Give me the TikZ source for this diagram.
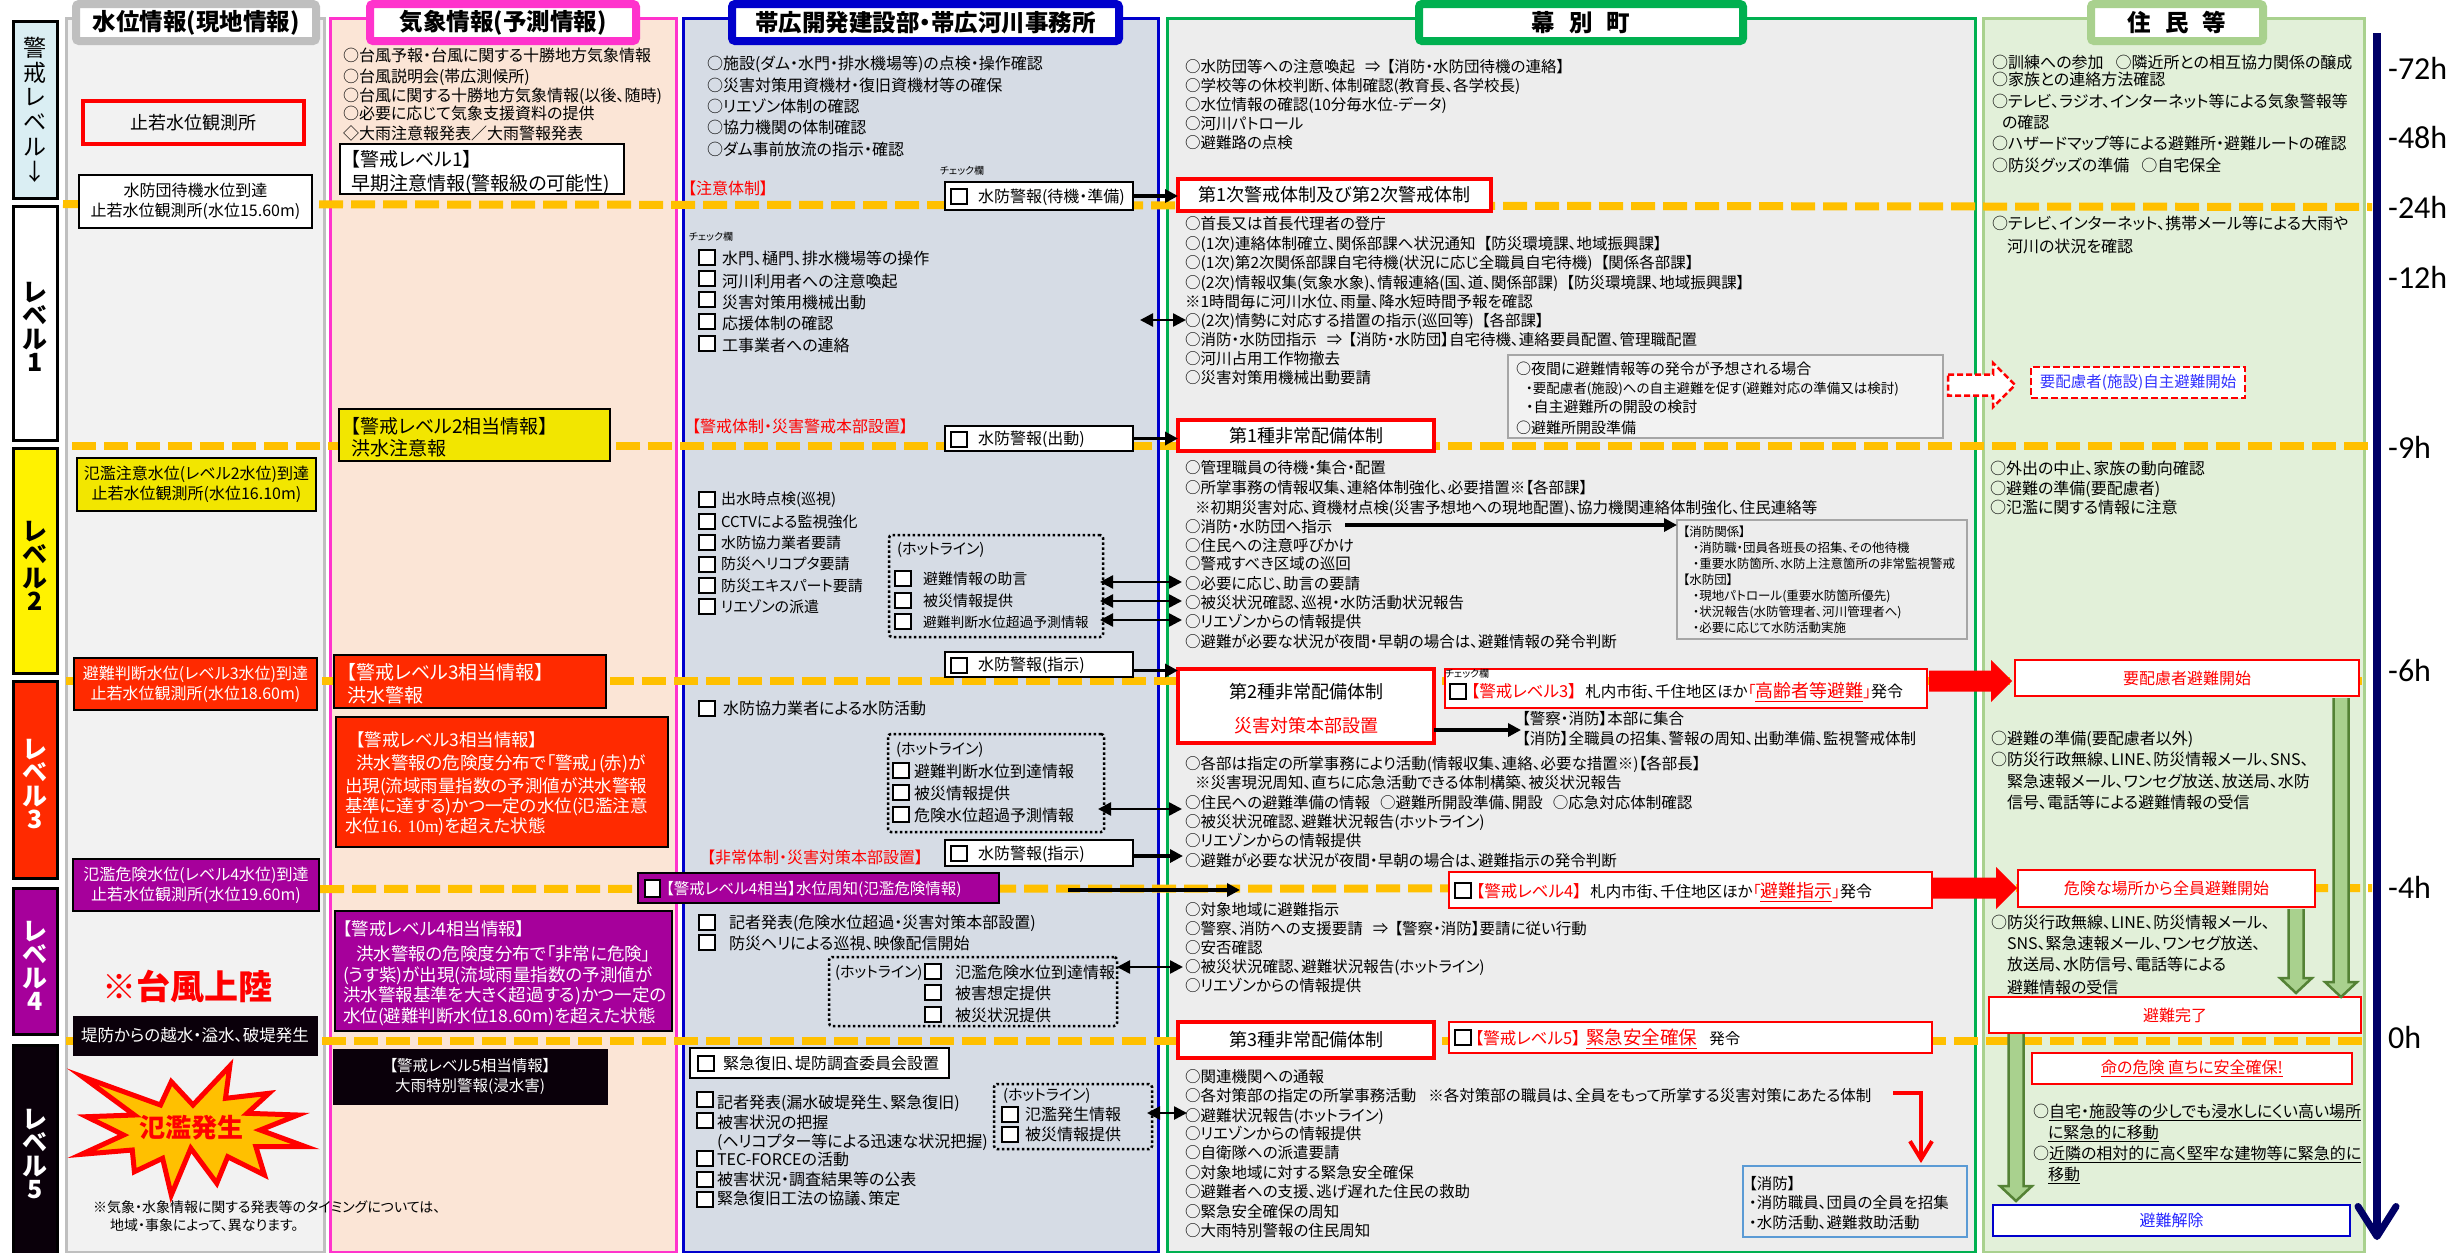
\documentclass[tikz,border=0pt]{standalone}
\usepackage{fontspec}
\setmainfont[RawFeature={+palt}]{Noto Sans CJK JP}
\newfontfamily\carl{Carlito}
\newfontfamily\sernum{Liberation Serif}
\usetikzlibrary{arrows.meta,calc}
\definecolor{cOr}{HTML}{FFC000}
\definecolor{cPk}{HTML}{FF33CC}
\definecolor{cBl}{HTML}{0000CC}
\definecolor{cGn}{HTML}{00B050}
\definecolor{cLg}{HTML}{A9D18E}
\definecolor{cDg}{HTML}{548235}
\definecolor{cGy}{HTML}{BFBFBF}
\definecolor{cRd}{HTML}{FF2A00}
\definecolor{cPu}{HTML}{A6009B}
\definecolor{cYe}{HTML}{F2E600}
\definecolor{cBk}{HTML}{0A000A}
\definecolor{cNv}{HTML}{000066}
\definecolor{cSt}{HTML}{FFC000}
\tikzset{
 fs/.style={font=\fontsize{#1}{#1}\selectfont},
 txt/.style={fs=#1,inner sep=0pt,outer sep=0pt,anchor=west,text height={0.88*#1*1pt},text depth={0.12*#1*1pt}},
 box/.style={draw,inner sep=0pt,outer sep=0pt,align=center,line width=2pt},
 panel/.style={draw,inner sep=0pt,line width=3pt},
 head/.style={draw,fill=white,inner sep=0pt,line width=8pt,rounded corners=3pt,font=\fontsize{23.5}{23.5}\selectfont\bfseries},
 lvl/.style={draw=black,inner sep=0pt,line width=3pt},
 lvltxt/.style={inner sep=0pt,align=center,font=\fontsize{25}{23.5}\selectfont\bfseries},
 redbox/.style={box,draw=red,fill=white,line width=4pt},
 thinred/.style={box,draw=red,fill=white,line width=2pt},
 dline/.style={draw=cOr,line width=8pt,dash pattern=on 24pt off 8pt},
 hot/.style={draw,inner sep=0pt,line width=2.5pt,dash pattern=on 2.5pt off 2.5pt,rounded corners=3pt},
 chkst/.style={draw=black,fill=white,line width=2pt},
 arr/.style={draw=black,line width=3.5pt,-{Triangle[length=13pt,width=13pt]}},
 dbl/.style={draw=black,line width=2.5pt,{Triangle[length=13pt,width=13pt]}-{Triangle[length=13pt,width=13pt]}},
 garrow/.style={draw=cDg,fill=cLg,line width=2.5pt},
}
\newcommand\Bx[7]{\node[#6,minimum width={(#4-#2)*1pt},minimum height={(#5-#3)*1pt}] (#1) at ({(#2+#4)/2},{(#3+#5)/2}) {#7};}
\newcommand\Ls[4]{\foreach \lnY/\lnT [count=\lnI] in {#4} {\node[txt=#2] (#1\lnI) at (#3,\lnY) {\lnT};}}
\newcommand\Chk[2]{\draw[chkst] ({#1},{#2-7.5}) rectangle ({#1+16},{#2+7.5});}
\newcommand\GA[2]{\draw[garrow] let \p1=(#1),\p2=(#2) in (\x1-7.5pt,\y1) -- (\x1-7.5pt,\y2+15pt) -- (\x1-16pt,\y2+15pt) -- (\x1,\y2) -- (\x1+16pt,\y2+15pt) -- (\x1+7.5pt,\y2+15pt) -- (\x1+7.5pt,\y1);}
\newcommand\RA[2]{\fill[red] let \p1=(#1),\p2=(#2) in (\x1,\y1+10.5pt) -- (\x2-21pt,\y1+10.5pt) -- (\x2-21pt,\y1+21pt) -- (\x2,\y1) -- (\x2-21pt,\y1-21pt) -- (\x2-21pt,\y1-10.5pt) -- (\x1,\y1-10.5pt) -- cycle;}
\newcommand\Rd[1]{{\color{red}\fontsize{16.5}{16.5}\selectfont #1}}
\begin{document}
\begin{tikzpicture}[x=1pt,y=-1pt]
\useasboundingbox (0,0) rectangle (2458,1253);
% panels
\Bx{pWater}{66}{18}{324}{1252}{panel,draw=cGy,fill=black!5}{}
\Bx{pWeather}{330}{18}{676}{1252}{panel,draw=cPk,fill={rgb,255:red,251;green,229;blue,214}}{}
\Bx{pDev}{683}{18}{1158}{1252}{panel,draw=cBl,fill={rgb,255:red,214;green,220;blue,229}}{}
\Bx{pTown}{1167}{18}{1975}{1252}{panel,draw=cGn,fill={rgb,255:red,237;green,237;blue,237}}{}
\Bx{pRes}{1983}{18}{2364}{1252}{panel,draw=cLg,fill={rgb,255:red,226;green,240;blue,217}}{}
% level boxes
\Bx{lv0}{13.5}{21.5}{57.5}{198}{lvl,fill={rgb,255:red,218;green,238;blue,243}}{}
\Bx{lv1}{13.5}{206.5}{57.5}{440}{lvl,fill=white}{}
\Bx{lv2}{13.5}{448.5}{57.5}{673}{lvl,fill=yellow}{}
\Bx{lv3}{13.5}{681.5}{57.5}{878}{lvl,fill=cRd}{}
\Bx{lv4}{13.5}{888.5}{57.5}{1034}{lvl,fill=cPu}{}
\Bx{lv5}{13.5}{1045.5}{57.5}{1256}{lvl,fill=cBk}{}
\node[inner sep=0pt,align=center,font=\fontsize{23}{24.8}\selectfont] (lt0) at (35,109.5) {警\\戒\\レ\\ベ\\ル\\↓};
\node[lvltxt] (lt1) at (35,327) {レ\\ベ\\ル\\1};
\node[lvltxt] (lt2) at (35,566) {レ\\ベ\\ル\\2};
\node[lvltxt,text=white] (lt3) at (35,784) {レ\\ベ\\ル\\3};
\node[lvltxt,text=white] (lt4) at (35,966) {レ\\ベ\\ル\\4};
\node[lvltxt,text=white] (lt5) at (35,1154) {レ\\ベ\\ル\\5};
% dashed level lines
\coordinate (d1a) at (63,204); \coordinate (d1b) at (2372,207);
\coordinate (d2a) at (72,446); \coordinate (d2b) at (2368,446);
\coordinate (d3a) at (66,681); \coordinate (d3b) at (2363,681);
\coordinate (d4a) at (320,889); \coordinate (d4b) at (2372,888);
\coordinate (d5a) at (66,1041); \coordinate (d5b) at (2363,1041);
\draw[dline] (d1a) -- (d1b);
\draw[dline] (d2a) -- (d2b);
\draw[dline] (d3a) -- (d3b);
\draw[dline] (d4a) -- (d4b);
\draw[dline] (d5a) -- (d5b);
% headers
\Bx{hWater}{76}{4}{316}{41}{head,draw=cGy}{水位情報(現地情報)}
\Bx{hWeather}{370}{4}{636}{41}{head,draw=cPk}{気象情報(予測情報)}
\Bx{hDev}{732}{4}{1119}{41}{head,draw=cBl}{帯広開発建設部・帯広河川事務所}
\Bx{hTown}{1419}{4}{1743}{41}{head,draw=cGn}{幕\hspace{14pt}別\hspace{14pt}町}
\Bx{hRes}{2091}{4}{2263}{41}{head,draw=cLg}{住\hspace{14pt}民\hspace{14pt}等}
% time axis
\coordinate (tTop) at (2377,33); \coordinate (tEnd) at (2377,1240);
\draw[cNv,line width=8pt,-{Straight Barb[round,length=30pt,width=38pt,line width=7pt]}] (tTop) -- (tEnd);
\foreach \tY/\tL [count=\tI] in {68/-72h,138/-48h,207/-24h,277/-12h,447/-9h,670/-6h,887/-4h,1037/0h}
 {\node[inner sep=0pt,anchor=west,font=\carl\fontsize{32}{32}\selectfont] (time\tI) at (2388,\tY) {\tL};}
% water column
\Bx{w0}{83}{101}{304}{144}{box,draw=red,line width=3.5pt,fill=black!5,fs=18}{止若水位観測所}
\Bx{w1}{79}{175}{312}{228}{box,fill=white,font=\fontsize{16}{20}\selectfont}{水防団待機水位到達\\止若水位観測所(水位15.60m)}
\Bx{w2}{77}{458}{316}{511}{box,fill=cYe,font=\fontsize{16}{20}\selectfont}{氾濫注意水位(レベル2水位)到達\\止若水位観測所(水位16.10m)}
\Bx{w3}{74}{658}{317}{710}{box,fill=cRd,text=white,font=\fontsize{16}{20}\selectfont}{避難判断水位(レベル3水位)到達\\止若水位観測所(水位18.60m)}
\Bx{w4}{73}{859}{319}{911}{box,fill=cPu,text=white,font=\fontsize{16}{20}\selectfont}{氾濫危険水位(レベル4水位)到達\\止若水位観測所(水位19.60m)}
\Bx{w5}{73}{1016}{317}{1055}{draw=cBk,fill=cBk,text=white,inner sep=0pt,fs=16.5}{堤防からの越水・溢水、破堤発生}
\node[inner sep=0pt,anchor=west,text=red,font=\fontsize{34}{34}\selectfont\bfseries] (typh) at (102,986) {※台風上陸};
\draw[draw=red,fill=cSt,line width=5pt,miter limit=20] (82.4,1076.7) -- (160.5,1105) -- (171.3,1081.7) -- (193,1105) -- (229.8,1066) -- (225.5,1098.3) -- (268.9,1093.3) -- (247.2,1113.3) -- (297.9,1115) -- (260.2,1130) -- (305.7,1146.7) -- (255.9,1146.7) -- (264.5,1175) -- (227.7,1156.7) -- (216.8,1183.3) -- (190.8,1148.3) -- (171.3,1195) -- (162.6,1158.3) -- (134.4,1171.7) -- (132.3,1150) -- (81.5,1154.3) -- (123.6,1135) -- (86.7,1116.7) -- (134.4,1115) -- cycle;
\node[inner sep=0pt,text=red,font=\fontsize{26}{26}\selectfont\bfseries] (star) at (191,1128) {氾濫発生};
\Ls{note}{14}{93}{1207/※気象・水象情報に関する発表等のタイミングについては、,1225/\hspace*{17pt}地域・事象によって、異なります。}
% weather column
\Ls{we}{16}{343}{55/○台風予報・台風に関する十勝地方気象情報,76/○台風説明会(帯広測候所),95/○台風に関する十勝地方気象情報(以後、随時),113/○必要に応じて気象支援資料の提供,133/◇大雨注意報発表\symbol{"FF0F}大雨警報発表}
\Bx{wb1}{340}{144}{624}{194}{box,fill=white}{}
\Ls{wb1t}{19}{351}{159/【警戒レベル1】,183/早期注意情報(警報級の可能性)}
\Bx{wb2}{339}{409}{610}{461}{box,fill=cYe}{}
\Ls{wb2t}{19}{351}{426/【警戒レベル2相当情報】,448/洪水注意報}
\Bx{wb3}{334}{655}{606}{708}{box,fill=cRd}{}
\foreach \yy/\ss [count=\i] in {672/【警戒レベル3相当情報】,695/洪水警報}{\node[txt=19,text=white] (wb3t\i) at (347,\yy) {\ss};}
\Bx{wb4}{336}{717}{668}{847}{box,fill=cRd}{}
\foreach \yy/\ss [count=\i] in {740/\hspace*{11pt}【警戒レベル3相当情報】,763/\hspace*{11pt}洪水警報の危険度分布で「警戒」(赤)が,786/出現(流域雨量指数の予測値が洪水警報,806/基準に達する)かつ一定の水位(氾濫注意,826/水位{\sernum 16. 10m})を超えた状態}{\node[txt=17.5,text=white] (wb4t\i) at (345,\yy) {\ss};}
\Bx{wb5}{335}{911}{672}{1031}{box,fill=cPu}{}
\foreach \yy/\ss [count=\i] in {929/【警戒レベル4相当情報】,954/\hspace*{13pt}洪水警報の危険度分布で「非常に危険」,975/(うす紫)が出現(流域雨量指数の予測値が,995/洪水警報基準を大きく超過する)かつ一定の,1016/水位(避難判断水位18.60m)を超えた状態}{\node[txt=17.5,text=white] (wb5t\i) at (343,\yy) {\ss};}
\Bx{wb6}{333}{1049}{607}{1104}{draw=cBk,fill=cBk,text=white,inner sep=0pt,align=center,font=\fontsize{15.5}{20}\selectfont}{【警戒レベル5相当情報】\\大雨特別警報(浸水害)}
% development bureau column
\Ls{de}{16}{707}{63/○施設(ダム・水門・排水機場等)の点検・操作確認,85/○災害対策用資機材・復旧資機材等の確保,106/○リエゾン体制の確認,127/○協力機関の体制確認,149/○ダム事前放流の指示・確認}
\node[txt=16,text=red] (dRed1) at (688,188) {【注意体制】};
\node[txt=10] (dChk1) at (940,171) {チェック欄};
\Bx{n1}{945}{182}{1133}{210}{box,fill=white}{}
\Chk{951}{196}
\node[txt=16] (n1t) at (978,196) {水防警報(待機・準備)};
\node[txt=10] (dChk2) at (689,237) {チェック欄};
\Chk{699}{257} \Chk{699}{278} \Chk{699}{299} \Chk{699}{321} \Chk{699}{343}
\Ls{dl}{16}{722}{258/水門、樋門、排水機場等の操作,281/河川利用者への注意喚起,302/災害対策用機械出動,323/応援体制の確認,345/工事業者への連絡}
\node[txt=16,text=red] (dRed2) at (692,426) {【警戒体制・災害警戒本部設置】};
\Bx{n2}{945}{426}{1133}{451}{box,fill=white}{}
\Chk{951}{439}
\node[txt=16] (n2t) at (978,438) {水防警報(出動)};
\Chk{699}{499} \Chk{699}{521} \Chk{699}{542} \Chk{699}{564} \Chk{699}{585} \Chk{699}{606}
\Ls{dm}{15}{721}{499/出水時点検(巡視),522/CCTVによる監視強化,543/水防協力業者要請,564/防災ヘリコプタ要請,586/防災エキスパート要請,607/リエゾンの派遣}
\Bx{hot1}{889}{535}{1103}{637}{hot}{}
\node[txt=15] (hot1t) at (897,549) {(ホットライン)};
\Chk{895}{578} \Chk{895}{600} \Chk{895}{621}
\Ls{hot1l}{15}{923}{579/避難情報の助言,601/被災情報提供,622/{\fontsize{13.8}{13.8}\selectfont 避難判断水位超過予測情報}}
\Bx{n3}{945}{652}{1133}{677}{box,fill=white}{}
\Chk{951}{665}
\node[txt=16] (n3t) at (978,664) {水防警報(指示)};
\Chk{699}{708}
\node[txt=16] (dAct) at (723,708) {水防協力業者による水防活動};
\Bx{hot2}{888}{734}{1104}{832}{hot}{}
\node[txt=15] (hot2t) at (896,749) {(ホットライン)};
\Chk{893}{770} \Chk{893}{792} \Chk{893}{814}
\Ls{hot2l}{16}{914}{771/避難判断水位到達情報,793/被災情報提供,815/危険水位超過予測情報}
\node[txt=16,text=red] (dRed3) at (707,857) {【非常体制・災害対策本部設置】};
\Bx{n4}{945}{840}{1133}{866}{box,fill=white}{}
\Chk{951}{853.5}
\node[txt=16] (n4t) at (978,853) {水防警報(指示)};
\Bx{nPur}{638}{873}{999}{903}{box,fill=cPu,line width=2.5pt}{}
\draw[chkst,draw=black] (644.5,880) rectangle (660,896.5);
\node[txt=15.5,text=white] (nPurT) at (666,889) {【警戒レベル4相当】水位周知(氾濫危険情報)};
\Chk{699}{922} \Chk{699}{942}
\Ls{dn}{16}{729}{922/記者発表(危険水位超過・災害対策本部設置),943/防災ヘリによる巡視、映像配信開始}
\Bx{hot3}{829}{957}{1117}{1026}{hot}{}
\node[txt=15] (hot3t) at (835,972) {(ホットライン)};
\Chk{925}{971} \Chk{925}{992} \Chk{925}{1014}
\Ls{hot3l}{16}{955}{972/氾濫危険水位到達情報,993/被害想定提供,1015/被災状況提供}
\Bx{n5}{690}{1048}{949}{1078}{box,fill=white}{}
\Chk{698}{1063}
\node[txt=16] (n5t) at (723,1063) {緊急復旧、堤防調査委員会設置};
\Chk{697}{1099} \Chk{697}{1120} \Chk{697}{1158} \Chk{697}{1179} \Chk{697}{1199}
\Ls{dq}{16}{717}{1102/記者発表(漏水破堤発生、緊急復旧),1122/被害状況の把握,1141/(ヘリコプター等による迅速な状況把握),1159/TEC-FORCEの活動,1179/被害状況・調査結果等の公表,1198/緊急復旧工法の協議、策定}
\Bx{hot4}{994}{1084}{1152}{1149}{hot}{}
\node[txt=15] (hot4t) at (1003,1095) {(ホットライン)};
\Chk{1002}{1114} \Chk{1002}{1134}
\Ls{hot4l}{16}{1025}{1114/氾濫発生情報,1134/被災情報提供}
% town column
\Ls{ta}{15.5}{1185}{67/○水防団等への注意喚起\hspace{10pt}⇒\hspace{6pt}【消防・水防団待機の連絡】,86/○学校等の休校判断、体制確認(教育長、各学校長),105/○水位情報の確認(10分毎水位-データ),124/○河川パトロール,143/○避難路の点検}
\Bx{t1}{1178}{179}{1491}{211}{redbox,fs=18}{第1次警戒体制及び第2次警戒体制}
\Ls{tb}{15.5}{1185}{224/○首長又は首長代理者の登庁,244/○(1次)連絡体制確立、関係部課へ状況通知\hspace{8pt}【防災環境課、地域振興課】,263/○(1次)第2次関係部課自宅待機(状況に応じ全職員自宅待機)\hspace{8pt}【関係各部課】,283/○(2次)情報収集(気象水象)、情報連絡(国、道、関係部課)\hspace{8pt}【防災環境課、地域振興課】,302/※1時間毎に河川水位、雨量、降水短時間予報を確認,321/○(2次)情勢に対応する措置の指示(巡回等)\hspace{8pt}【各部課】,340/○消防・水防団指示\hspace{10pt}⇒\hspace{6pt}【消防・水防団】自宅待機、連絡要員配置、管理職配置,359/○河川占用工作物撤去,378/○災害対策用機械出動要請}
\Bx{tg}{1508}{355}{1943}{438}{box,draw=black!35,fill=black!5}{}
\Ls{tgl}{15}{1516}{369/○夜間に避難情報等の発令が予想される場合,388/\hspace*{10pt}{\fontsize{13.5}{13.5}\selectfont ・要配慮者(施設)への自主避難を促す(避難対応の準備又は検討)},407/\hspace*{10pt}・自主避難所の開設の検討,428/○避難所開設準備}
\Bx{ts}{2031}{367}{2245}{398}{box,draw=red,fill=white,line width=2.5pt,dash pattern=on 7pt off 3pt,text=blue!80!white,fs=15.5}{要配慮者(施設)自主避難開始}
\coordinate (hoS) at (1948,385);
\coordinate (hoE) at (2015,385);
\draw[red,fill=white,line width=2.5pt,dash pattern=on 6pt off 3pt] let \p1=(hoS),\p2=(hoE) in (\x1,\y1+10.5pt) -- (\x2-22pt,\y1+10.5pt) -- (\x2-22pt,\y1+22pt) -- (\x2,\y1) -- (\x2-22pt,\y1-22pt) -- (\x2-22pt,\y1-10.5pt) -- (\x1,\y1-10.5pt) -- cycle;
\Bx{t2}{1178}{420}{1434}{451}{redbox,fs=18}{第1種非常配備体制}
\Ls{tc}{15.5}{1185}{468/○管理職員の待機・集合・配置,488/○所掌事務の情報収集、連絡体制強化、必要措置※【各部課】,508/\hspace*{10pt}※初期災害対応、資機材点検(災害予想地への現地配置)、協力機関連絡体制強化、住民連絡等,527/○消防・水防団へ指示,546/○住民への注意呼びかけ,564/○警戒すべき区域の巡回,584/○必要に応じ、助言の要請,603/○被災状況確認、巡視・水防活動状況報告,622/○リエゾンからの情報提供,642/○避難が必要な状況が夜間・早朝の場合は、避難情報の発令判断}
\Bx{tr}{1677}{520}{1967}{639}{box,draw=black!35,fill=black!7}{}
\Ls{trl}{12.5}{1683}{532/【消防関係】,548/\hspace*{10pt}・消防職・団員各班長の招集、その他待機,564/\hspace*{10pt}・重要水防箇所、水防上注意箇所の非常監視警戒,580/【水防団】,596/\hspace*{10pt}・現地パトロール(重要水防箇所優先),612/\hspace*{10pt}・状況報告(水防管理者、河川管理者へ),628/\hspace*{10pt}・必要に応じて水防活動実施}
\coordinate (trA) at (1345,525);
\Bx{t3}{1178}{669}{1434}{743}{redbox}{}
\node[txt=18,anchor=center] (t3a) at (1306,692) {第2種非常配備体制};
\node[txt=18,anchor=center,text=red] (t3b) at (1306,726) {災害対策本部設置};
\Bx{a3}{1445}{669}{1927}{708}{thinred}{}
\node[txt=10] (a3c) at (1445,674) {チェック欄};
\Chk{1450}{691}
\node[txt=15.5] (a3t) at (1471,692) {\Rd{【警戒レベル3】}\hspace{9pt}札内市街、千住地区ほか{\color{red}「{\fontsize{18}{18}\selectfont\underline{高齢者等避難}}」}{\fontsize{16}{16}\selectfont 発令}};
\Ls{td}{15.5}{1522}{719/【警察・消防】本部に集合,739/【消防】全職員の招集、警報の周知、出動準備、監視警戒体制}
\Ls{te}{15.5}{1185}{764/○各部は指定の所掌事務により活動(情報収集、連絡、必要な措置※)【各部長】,783/\hspace*{10pt}※災害現況周知、直ちに応急活動できる体制構築、被災状況報告,803/○住民への避難準備の情報\hspace{10pt}○避難所開設準備、開設\hspace{10pt}○応急対応体制確認,822/○被災状況確認、避難状況報告(ホットライン),841/○リエゾンからの情報提供,861/○避難が必要な状況が夜間・早朝の場合は、避難指示の発令判断}
\Bx{a4}{1449}{872}{1932}{908}{thinred}{}
\Chk{1455}{890}
\node[txt=15.5] (a4t) at (1476,892) {\Rd{【警戒レベル4】}\hspace{9pt}札内市街、千住地区ほか{\color{red}「{\fontsize{18}{18}\selectfont\underline{避難指示}}」}{\fontsize{16}{16}\selectfont 発令}};
\Ls{tf}{15.5}{1185}{910/○対象地域に避難指示,929/○警察、消防への支援要請\hspace{10pt}⇒\hspace{6pt}【警察・消防】要請に従い行動,948/○安否確認,967/○被災状況確認、避難状況報告(ホットライン),986/○リエゾンからの情報提供}
\Bx{t4}{1178}{1022}{1434}{1058}{redbox,fs=18}{第3種非常配備体制}
\Bx{a5}{1449}{1022}{1932}{1053}{thinred}{}
\Chk{1455}{1037.5}
\node[txt=15.5] (a5t) at (1475,1039) {\Rd{【警戒レベル5】}\hspace{6pt}{\color{red}\fontsize{18.5}{18.5}\selectfont\underline{緊急安全確保}}\hspace{12pt}発令};
\Ls{tf2}{15.5}{1185}{1077/○関連機関への通報,1096/○各対策部の指定の所掌事務活動\hspace{12pt}※各対策部の職員は、全員をもって所掌する災害対策にあたる体制,1116/○避難状況報告(ホットライン),1134/○リエゾンからの情報提供,1153/○自衛隊への派遣要請,1173/○対象地域に対する緊急安全確保,1192/○避難者への支援、逃げ遅れた住民の救助,1212/○緊急安全確保の周知,1231/○大雨特別警報の住民周知}
\Bx{tq}{1743}{1166}{1967}{1237}{box,draw={rgb,255:red,91;green,155;blue,213},fill=black!7}{}
\Ls{tql}{15.5}{1749}{1184/【消防】,1203/・消防職員、団員の全員を招集,1223/・水防活動、避難救助活動}
% residents column
\Ls{ra}{16}{1992}{62/○訓練への参加\hspace{12pt}○隣近所との相互協力関係の醸成,79/○家族との連絡方法確認,101/○テレビ、ラジオ、インターネット等による気象警報等,122/\hspace*{10pt}の確認,143/○ハザードマップ等による避難所・避難ルートの確認,165/○防災グッズの準備\hspace{12pt}○自宅保全}
\Ls{rb}{16}{1992}{223/○テレビ、インターネット、携帯メール等による大雨や,246/\hspace*{15pt}河川の状況を確認}
\Ls{rc}{16}{1990}{468/○外出の中止、家族の動向確認,488/○避難の準備(要配慮者),507/○氾濫に関する情報に注意}
\Bx{r1}{2015}{660}{2359}{696}{thinred,text=red,fs=16}{要配慮者避難開始}
\Ls{rd}{16}{1991}{738/○避難の準備(要配慮者以外),759/○防災行政無線、LINE、防災情報メール、SNS、,781/\hspace*{16pt}緊急速報メール、ワンセグ放送、放送局、水防,802/\hspace*{16pt}信号、電話等による避難情報の受信}
\Bx{r2}{2018}{870}{2315}{907}{thinred,text=red,fs=16}{危険な場所から全員避難開始}
\Ls{re}{16}{1991}{922/○防災行政無線、LINE、防災情報メール、,943/\hspace*{16pt}SNS、緊急速報メール、ワンセグ放送、,964/\hspace*{16pt}放送局、水防信号、電話等による,987/\hspace*{16pt}避難情報の受信}
\Bx{r3}{1989}{997}{2361}{1033}{thinred,text=red,fs=16}{避難完了}
\Bx{r4}{2032}{1053}{2352}{1084}{thinred,text=red,fs=16}{\underline{命の危険 直ちに安全確保!}}
\Ls{rf}{16}{2033}{1111/○\underline{自宅・施設等の少しでも浸水しにくい高い場所},1132/\hspace*{15pt}\underline{に緊急的に移動},1153/○\underline{近隣の相対的に高く堅牢な建物等に緊急的に},1174/\hspace*{15pt}\underline{移動}}
\Bx{r5}{1993}{1205}{2350}{1236}{box,draw=cBl,fill=white,text=blue!85!white,fs=16}{避難解除}
% connectors
\draw[arr] (n1.east) -- (n1.east -| t1.west);
\draw[arr] (n2.east) -- (n2.east -| t2.west);
\draw[arr] ([yshift=-6pt]n3.east) -- ([yshift=-6pt]n3.east -| t3.west);
\coordinate (c0e) at (1183,856);
\draw[arr] (n4.east |- c0e) -- (c0e);
\coordinate (c1) at (1140,320); \coordinate (c1e) at (1186,320);
\draw[dbl] (c1) -- (c1e);
\coordinate (c2) at (1100,582); \coordinate (c2e) at (1182,582);
\coordinate (c3) at (1100,601); \coordinate (c3e) at (1182,601);
\coordinate (c4) at (1100,620); \coordinate (c4e) at (1182,620);
\draw[dbl] (c2) -- (c2e);
\draw[dbl] (c3) -- (c3e);
\draw[dbl] (c4) -- (c4e);
\coordinate (c5) at (1098,809); \coordinate (c5e) at (1182,809);
\draw[dbl] (c5) -- (c5e);
\coordinate (c6) at (1117,967); \coordinate (c6e) at (1183,967);
\draw[dbl] (c6) -- (c6e);
\coordinate (c7) at (1147,1113); \coordinate (c7e) at (1187,1113);
\draw[dbl] (c7) -- (c7e);
\coordinate (c8) at (1068,890); \coordinate (c8e) at (1240,890);
\draw[arr] (c8) -- (c8e);
\draw[arr] (trA) -- (trA -| tr.west);
\coordinate (c9) at (1521,730);
\draw[arr] (t3.east |- c9) -- (c9);
\coordinate (e1) at (1893,1093); \coordinate (e2) at (1921,1163);
\draw[red,line width=4pt,-{Straight Barb[length=18pt,width=22pt,line width=4pt]}] (e1) -| (e2);
\coordinate (ra3s) at (1929,681); \coordinate (ra3e) at (2012,681);
\RA{ra3s}{ra3e}
\coordinate (ra4s) at (1933,888); \coordinate (ra4e) at (2017,888);
\RA{ra4s}{ra4e}
\coordinate (g1s) at (2341,698); \coordinate (g1e) at (2341,997);
\GA{g1s}{g1e}
\coordinate (g2s) at (2296,909); \coordinate (g2e) at (2296,993);
\GA{g2s}{g2e}
\coordinate (g3s) at (2016,1034); \coordinate (g3e) at (2016,1201);
\GA{g3s}{g3e}
\end{tikzpicture}
\end{document}
